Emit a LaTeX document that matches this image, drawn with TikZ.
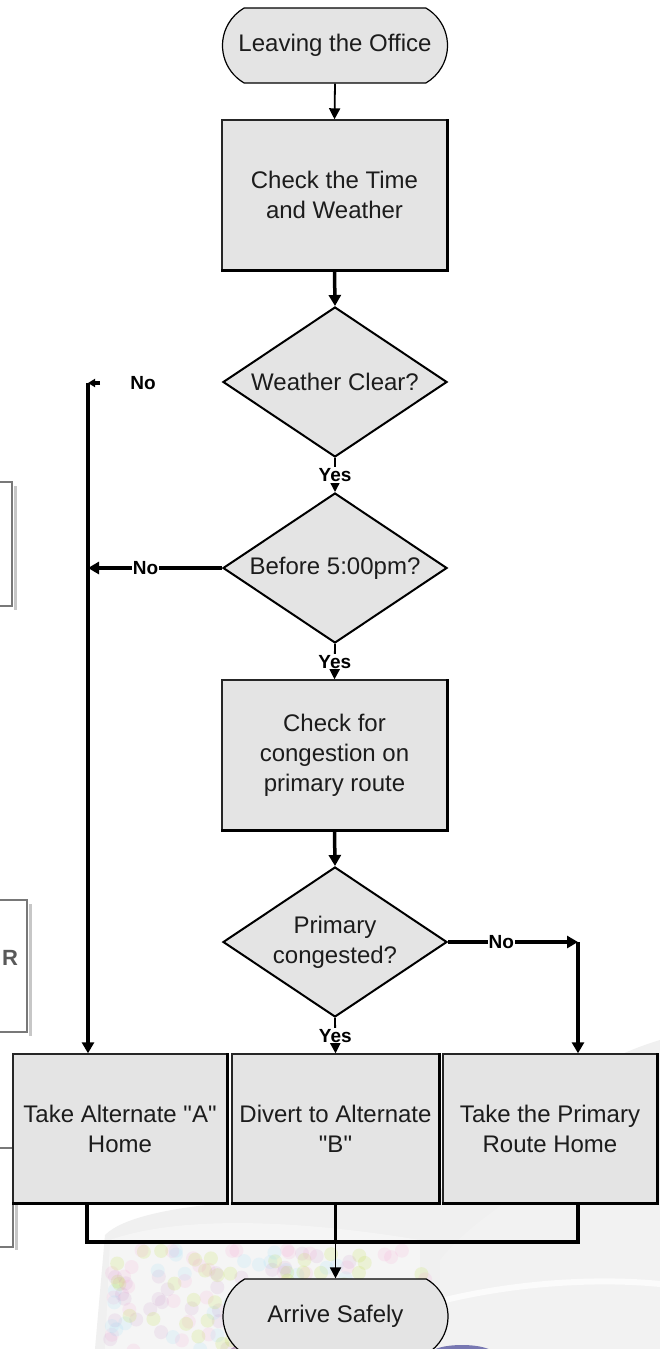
\documentclass[tikz,border=0pt]{standalone}
\usepackage{fontspec}
\setmainfont{Liberation Sans}
\usetikzlibrary{shapes.geometric,shapes.misc,arrows.meta,calc}
\definecolor{boxgray}{RGB}{228,228,228}
\definecolor{inkc}{RGB}{28,28,28}
\definecolor{slideedge}{RGB}{120,120,120}

\begin{document}
\begin{tikzpicture}[x=1pt,y=-1pt,
  every node/.style={font=\fontsize{24}{30}\selectfont, text=inkc, align=center, inner sep=0pt},
  terminal/.style={rounded rectangle, rounded rectangle arc length=120, draw=black,
    line width=1.2pt, fill=boxgray, minimum width=225pt, minimum height=75pt},
  process/.style={rectangle, draw=black!85, line width=1.4pt, fill=boxgray},
  decision/.style={diamond, draw=black, line width=2pt, fill=boxgray,
    minimum width=224pt, minimum height=150pt, aspect=1.5},
  shadowedge/.style={draw=black, line width=3.5pt},
  thinflow/.style={draw=black, line width=1.8pt, -{Triangle[width=11pt,length=11pt]}},
  thickflow/.style={draw=black, line width=3.5pt, -{Triangle[width=12pt,length=11pt]}},
  thickline/.style={draw=black, line width=3.5pt},
  yesno/.style={font=\bfseries\fontsize{19}{19}\selectfont, text=black, fill=white, inner sep=1pt},
  slidebox/.style={draw=slideedge, line width=2.5pt, fill=white},
  slideshadow/.style={draw=black!22, line width=3pt},
]
\useasboundingbox (0,0) rectangle (660,1349);
\fill[white] (0,0) rectangle (660,1349);

% faded photograph behind the lower part of the chart
\begin{scope}
  \clip (0,1000) rectangle (660,1349);
  \fill[black!6] (660,1040) .. controls (560,1070) and (480,1150) .. (430,1200)
    .. controls (300,1195) and (140,1200) .. (105,1235) -- (95,1349) -- (660,1349) -- cycle;
  \fill[black!5] (660,1120) .. controls (560,1160) and (470,1220) .. (440,1260)
    -- (440,1349) -- (660,1349) -- cycle;
  \fill[black!4] (110,1240) .. controls (180,1215) and (300,1220) .. (420,1240)
    -- (420,1349) -- (105,1349) -- cycle;
  \draw[white, line width=6pt, opacity=0.7] (445,1300) .. controls (520,1282) and (600,1278) .. (660,1284);
  \pgfmathsetseed{11}
  \foreach \i in {1,...,170}{
    \pgfmathsetmacro{\bx}{110+320*rnd}
    \pgfmathsetmacro{\by}{1250+102*rnd}
    \pgfmathtruncatemacro{\bc}{int(4*rnd)}
    \ifcase\bc \def\bcol{magenta!40}\or \def\bcol{violet!45}\or \def\bcol{yellow!70!green}\or \def\bcol{cyan!45}\else \def\bcol{magenta!40}\fi
    \fill[\bcol, opacity=0.14] (\bx,\by) circle[radius=7];
  }
  \fill[blue!45!black, opacity=0.5] (462,1354) ellipse[x radius=32, y radius=9];
  \fill[violet!60!black, opacity=0.3] (245,1352) ellipse[x radius=16, y radius=7];
\end{scope}

% edges of neighbouring slides at the left margin
\draw[slideshadow] (15,486) -- (15,610);
\draw[slidebox] (-60,482) rectangle (12,606);
\draw[slideshadow] (30,904) -- (30,1036);
\draw[slidebox] (-60,900) rectangle (27,1032);
\node[font=\bfseries\fontsize{22}{22}\selectfont, text=black!65] (slideR) at (10,958) {R};
\draw[slideshadow] (16,1152) -- (16,1250);
\draw[slidebox] (-60,1148) rectangle (13,1247);

% chart nodes
\node[terminal] (start) at (335,45.5) {Leaving the Office};
\node[process, minimum width=225pt, minimum height=150pt] (check1) at (334.5,195) {Check the Time\\and Weather};
\node[decision] (weather) at (335,382) {Weather Clear?};
\node[decision] (before) at (335,568) {Before 5:00pm?};
\node[process, minimum width=225pt, minimum height=150pt] (check2) at (334.5,755) {Check for\\congestion on\\primary route};
\node[decision] (congested) at (335,942) {Primary\\congested?};
\node[process, minimum width=214pt, minimum height=149pt] (boxA) at (120,1128.5) {Take Alternate \textquotedbl A\textquotedbl\\Home};
\node[process, minimum width=207pt, minimum height=149pt] (boxB) at (335.5,1128.5) {Divert to Alternate\\\textquotedbl B\textquotedbl};
\node[process, minimum width=214pt, minimum height=149pt] (boxC) at (550,1128.5) {Take the Primary\\Route Home};
\node[terminal] (finish) at (335.5,1316.5) {Arrive Safely};

% heavy lower and right edges of the process boxes
\foreach \n in {check1,check2,boxA,boxB,boxC}
  \draw[shadowedge] (\n.north east) -- (\n.south east) -- (\n.south west);

% connectors
\draw[thinflow] (start.south) -- (check1.north);
\draw[thickflow] (check1.south) -- (weather.north);
\draw[thinflow] (weather.south) -- node[yesno]{Yes} (before.north);
\draw[thinflow] (before.south) -- node[yesno]{Yes} (check2.north);
\draw[thickflow] (check2.south) -- (congested.north);
\draw[thinflow] (congested.south) -- node[yesno]{Yes} (boxB.north);

\coordinate (leftturn) at (88,383);
\node[yesno] (noclear) at (143,383) {No};
\draw[thickline, -{Triangle[width=8pt,length=7pt]}] ($(leftturn)+(12,0)$) -- (leftturn);
\draw[thickflow] (leftturn) -- (leftturn |- boxA.north);
\draw[thickflow] (before.west) -- node[yesno, pos=0.57]{No} (before.west -| leftturn);

\coordinate (rightturn) at (578,942);
\draw[thickflow] (congested.east) -- node[yesno, pos=0.41]{No} (rightturn);
\draw[thickflow] (rightturn) -- (rightturn |- boxC.north);

\coordinate (mergeL) at (87,1242);
\coordinate (mergeR) at (578,1242);
\draw[thickline] (mergeL |- boxA.south) -- (mergeL) -- (mergeR) -- (mergeR |- boxC.south);
\draw[thickline] (boxB.south) -- (boxB.south |- mergeL);
\draw[thinflow] (boxB.south |- mergeL) -- (finish.north);
\end{tikzpicture}
\end{document}
